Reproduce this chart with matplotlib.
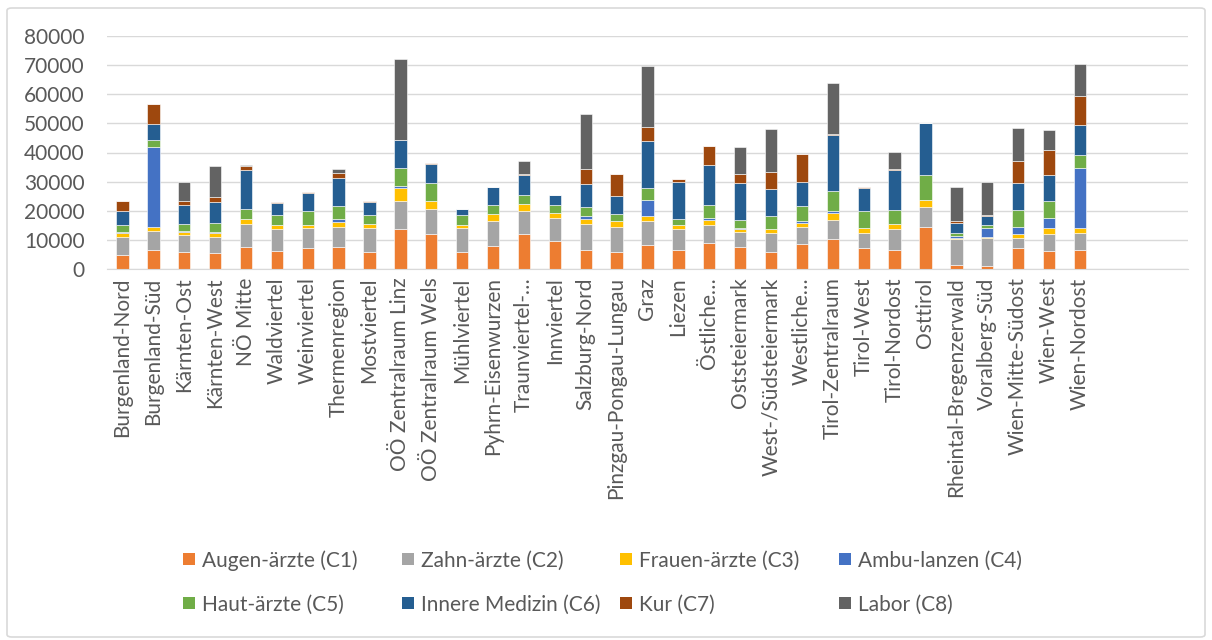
import matplotlib
matplotlib.use("Agg")
import matplotlib.pyplot as plt
from matplotlib.patches import FancyBboxPatch, Rectangle
import numpy as np

plt.rcParams['font.family'] = ['Lato', 'DejaVu Sans']

categories = ["Burgenland-Nord", "Burgenland-Süd", "Kärnten-Ost", "Kärnten-West", "NÖ Mitte",
              "Waldviertel", "Weinviertel", "Thermenregion", "Mostviertel", "OÖ Zentralraum Linz",
              "OÖ Zentralraum Wels", "Mühlviertel", "Pyhrn-Eisenwurzen", "Traunviertel-…",
              "Innviertel", "Salzburg-Nord", "Pinzgau-Pongau-Lungau", "Graz", "Liezen", "Östliche…",
              "Oststeiermark", "West-/Südsteiermark", "Westliche…", "Tirol-Zentralraum", "Tirol-West",
              "Tirol-Nordost", "Osttirol", "Rheintal-Bregenzerwald", "Voralberg-Süd",
              "Wien-Mitte-Südost", "Wien-West", "Wien-Nordost"]

series_names = ["Augen-ärzte (C1)", "Zahn-ärzte (C2)", "Frauen-ärzte (C3)", "Ambu-lanzen (C4)",
                "Haut-ärzte (C5)", "Innere Medizin (C6)", "Kur (C7)", "Labor (C8)"]

c1_augen = [4930, 6650, 5840, 5390, 7560, 6300, 7100, 7560, 5840, 13750, 11920, 5840, 8020, 11920, 9740, 6650,
            5840, 8370, 6650, 8940, 7560, 5840, 8480, 10200, 7100, 6650, 14550, 1380, 920, 7100, 6190, 6650]
c2_zahn = [6070, 6530, 5730, 5610, 7910, 7450, 7110, 6990, 8260, 9630, 8820, 8260, 8370, 7910, 7910, 8820,
           8710, 8020, 7100, 6070, 5270, 6540, 6070, 6530, 5280, 7100, 6650, 8820, 9740, 3560, 5730, 5730]
c3_frauen = [1380, 1370, 1270, 1380, 1720, 1260, 800, 1720, 1370, 4350, 2640, 910, 2630, 2630, 1720, 1720,
             1840, 1720, 1260, 1720, 920, 1370, 1380, 2640, 1720, 1720, 2640, 460, 460, 1260, 2180, 1720]
c4_ambu = [450, 27280, 200, 450, 100, 0, 0, 920, 0, 920, 0, 0, 0, 0, 0, 920,
           0, 5730, 0, 920, 460, 0, 570, 570, 0, 0, 0, 800, 2980, 2630, 3550, 20740]
c5_haut = [2180, 2630, 2430, 3100, 3450, 3560, 4820, 4350, 3100, 6190, 6190, 3560, 3100, 3100, 2630, 3090,
           2630, 3890, 2180, 4350, 2520, 4360, 5040, 6880, 5730, 4810, 8360, 920, 910, 5730, 5730, 4350]
c6_innere = [4820, 5160, 6530, 6990, 13180, 4120, 6410, 9750, 4350, 9620, 6530, 2170, 6070, 6640, 3560, 7910,
             6190, 16280, 12840, 13640, 12840, 9280, 8490, 19020, 7900, 13640, 17990, 3550, 3100, 9290, 8820, 10090]
c7_kur = [3430, 7110, 1380, 1720, 1610, 230, 230, 1710, 460, 0, 460, 0, 0, 460, 0, 5270,
          7450, 4810, 800, 6530, 3090, 6070, 9620, 460, 460, 460, 0, 460, 460, 7450, 8830, 10200]
c8_labor = [0, 0, 6530, 10660, 220, 0, 0, 1380, 0, 27740, 0, 0, 0, 4360, 0, 18910,
            0, 20740, 0, 0, 9170, 14560, 0, 17650, 0, 5730, 0, 11800, 11340, 11460, 6530, 11000]

y_ticks = [0, 10000, 20000, 30000, 40000, 50000, 60000, 70000, 80000]

colors = ["#ED7D31", "#A5A5A5", "#FFC000", "#4472C4", "#70AD47", "#255E91", "#9E480E", "#636363"]
series = [c1_augen, c2_zahn, c3_frauen, c4_ambu, c5_haut, c6_innere, c7_kur, c8_labor]

W, H = 1212, 640
fig = plt.figure(figsize=(W / 100, H / 100), dpi=100)
ax = fig.add_axes([107 / W, 1 - 269 / H, (1188 - 107) / W, (269 - 36) / H])

x = np.arange(len(categories))
bottom = np.zeros(len(categories))
for name, vals, col in zip(series_names, series, colors):
    vals = np.array(vals, dtype=float)
    ax.bar(x, vals, width=0.4, bottom=bottom, color=col, label=name,
           edgecolor='white', linewidth=0.4)
    bottom += vals

text_col = "#595959"
ax.set_ylim(0, 80000)
ax.set_xlim(-0.5, len(categories) + 3 - 0.5)
ax.set_yticks(y_ticks)
ax.set_yticklabels([str(v) for v in y_ticks], fontsize=15, color=text_col)
ax.set_xticks(x)
ax.set_xticklabels(categories, rotation=90, fontsize=15, color=text_col, ha='center', va='top')
ax.tick_params(axis='both', length=0)
ax.tick_params(axis='y', pad=16)
ax.tick_params(axis='x', pad=6)
ax.grid(axis='y', color='#d9d9d9', linewidth=1)
ax.set_axisbelow(True)
for s in ['top', 'right', 'left']:
    ax.spines[s].set_visible(False)
ax.spines['bottom'].set_color('#d9d9d9')

# Legend laid out in an Excel-like fixed grid (4 columns, 2 rows, row-major)
col_x = [183, 402, 620, 839]
row_y = [559, 603]
sq = 12
for i, (name, col) in enumerate(zip(series_names, colors)):
    r, c = divmod(i, 4)
    x0, yc = col_x[c], row_y[r]
    fig.patches.append(Rectangle((x0 / W, 1 - (yc + sq / 2) / H), sq / W, sq / H,
                                 transform=fig.transFigure, facecolor=col, edgecolor='none'))
    fig.text((x0 + 19) / W, 1 - yc / H, name, fontsize=15, color=text_col,
             ha='left', va='center_baseline')

border = FancyBboxPatch((7 / W, 3 / H), (1205 - 7) / W, (632 - 3) / H,
                        boxstyle="round,pad=0,rounding_size=0.004",
                        transform=fig.transFigure, fill=False, edgecolor='#d9d9d9', linewidth=1.2)
fig.patches.append(border)

fig.savefig("out.png", dpi=100, facecolor='white')
